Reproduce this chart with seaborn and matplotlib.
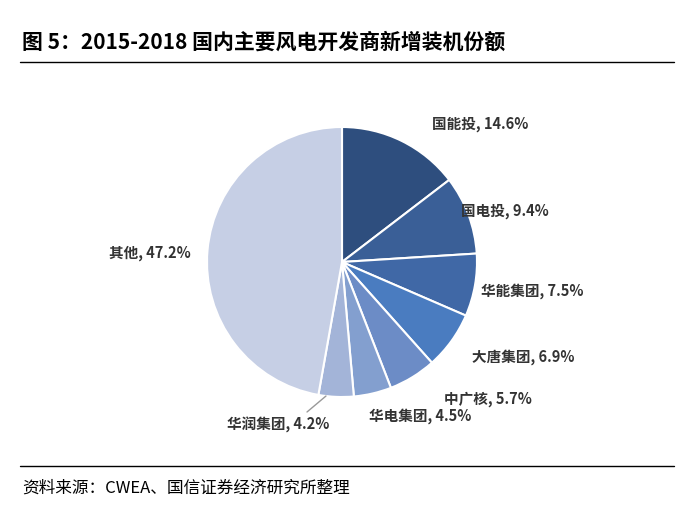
import matplotlib.pyplot as plt
import seaborn as sns

sns.set_style("white")
plt.rcParams["font.family"] = "Noto Sans CJK SC"

# data
companies = ["国能投", "国电投", "华能集团", "大唐集团", "中广核", "华电集团", "华润集团", "其他"]
shares = [14.6, 9.4, 7.5, 6.9, 5.7, 4.5, 4.2, 47.2]
colors = ["#2E4E7E", "#3A5F97", "#4068A6", "#4A7CC0", "#6C8CC6", "#839FCF", "#A3B4D8", "#C6CFE5"]
# label centers in pixels (x, y from top)
label_pos = [(480, 124), (505, 211), (532, 291), (523, 357), (488, 399), (420, 416), (278, 425), (150, 253)]

W, H = 696, 506
fig = plt.figure(figsize=(W / 100, H / 100), dpi=100)
ax = fig.add_axes([0, 0, 1, 1])

ax.pie(shares, colors=colors, startangle=90, counterclock=False,
       center=(342, H - 263), radius=135,
       wedgeprops=dict(edgecolor="white", linewidth=1.5))
ax.set_xlim(0, W)
ax.set_ylim(0, H)
ax.set_aspect("equal")
ax.axis("off")

for name, val, (x, y) in zip(companies, shares, label_pos):
    ax.text(x, H - y, f"{name}, {val}%", ha="center", va="center",
            fontsize=10.5, fontweight="bold", color="#333333")

# leader line for 华润集团
ax.plot([326, 307], [H - 397, H - 413], color="#999999", lw=1)

# title, rules, source
ax.text(22, H - 42, "图 5：2015-2018 国内主要风电开发商新增装机份额", ha="left", va="center",
        fontsize=15, fontweight="bold", color="black")
ax.plot([20, 674], [H - 63, H - 63], color="black", lw=1)
ax.plot([20, 674], [H - 467, H - 467], color="black", lw=1)
ax.text(22, H - 488, "资料来源：CWEA、国信证券经济研究所整理", ha="left", va="center",
        fontsize=12, color="black")

fig.savefig("out.png", dpi=100)
